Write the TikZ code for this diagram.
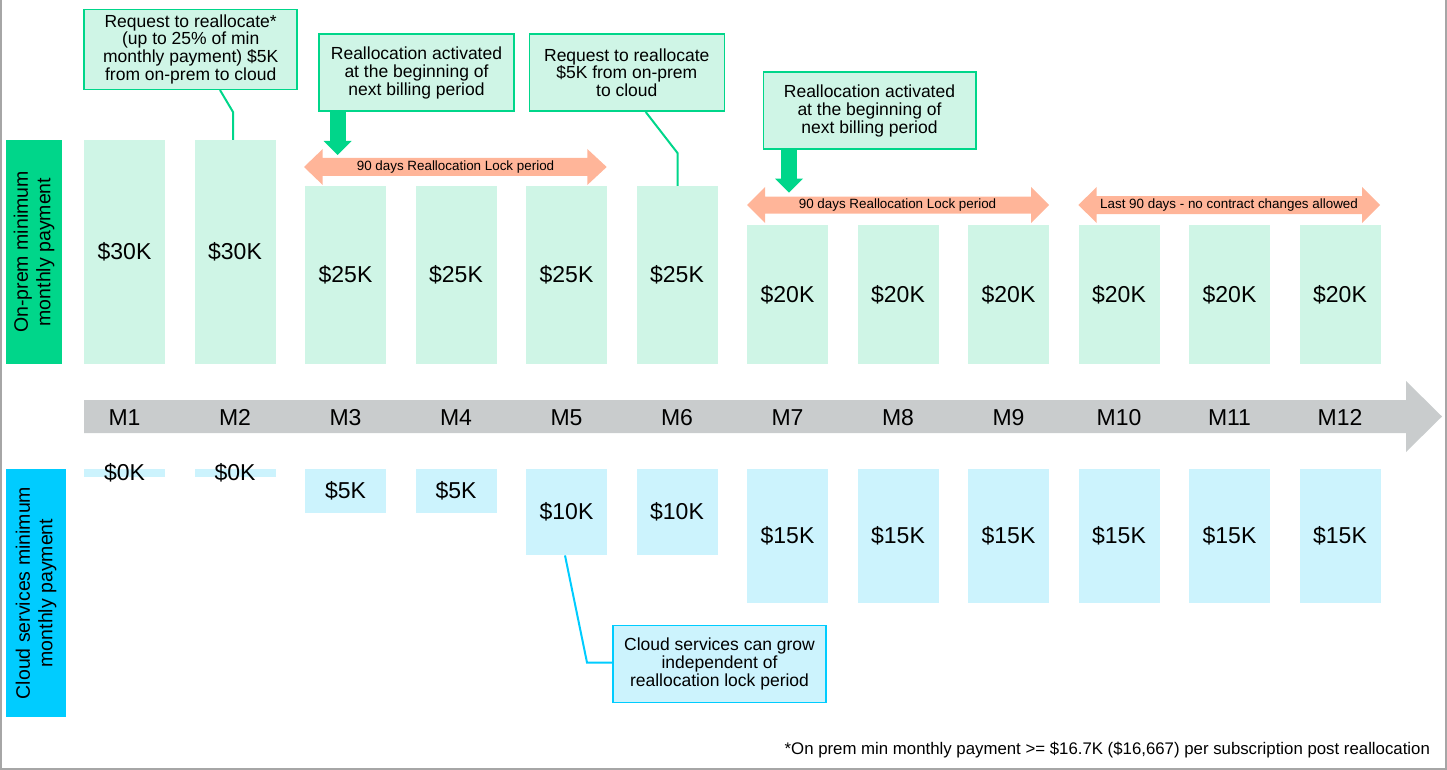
\documentclass[tikz,border=0pt]{standalone}
\usepackage{fontspec}
\setmainfont{Liberation Sans}
\usetikzlibrary{positioning,arrows.meta,shapes}
\definecolor{onprem}{HTML}{00D68A}
\definecolor{onpremlight}{HTML}{CFF5E6}
\definecolor{cloud}{HTML}{00CCFF}
\definecolor{cloudlight}{HTML}{CCF3FD}
\definecolor{lock}{HTML}{FFB599}
\definecolor{axis}{HTML}{C9CCCD}
\definecolor{framegray}{HTML}{A6A6A6}
\tikzstyle{month}=[font=\fontsize{23}{23}\selectfont, text height=16.5pt, text depth=0pt]
\tikzstyle{pbar}=[fill=onpremlight, minimum width=81pt, inner sep=0pt, anchor=north, font=\fontsize{23}{23}\selectfont]
\tikzstyle{cbar}=[fill=cloudlight, minimum width=81pt, inner sep=0pt, anchor=north, font=\fontsize{23}{23}\selectfont]
\tikzstyle{note}=[draw=onprem, line width=1.5pt, fill=onpremlight, align=center, inner sep=0pt, font=\fontsize{17.5}{17.8}\selectfont]
\tikzstyle{cnote}=[note, draw=cloud, fill=cloudlight]
\tikzstyle{side}=[rotate=90, align=center, inner sep=0pt, font=\fontsize{19.5}{22.5}\selectfont]
\tikzstyle{locktext}=[font=\fontsize{13.4}{14}\selectfont]
\tikzstyle{leader}=[draw=onprem, line width=2pt]
\tikzstyle{cleader}=[draw=cloud, line width=2pt]
\tikzstyle{push}=[draw=onprem, line width=16pt, -{Triangle[width=28pt,length=14pt,line width=0pt]}]
\tikzstyle{frameline}=[draw=framegray, line width=2pt]

\begin{document}
\begin{tikzpicture}[x=1pt, y=-1pt, node distance=110.5pt]
	\useasboundingbox (0,0) rectangle (1447,770);
	\draw[frameline] (1,0) -- (1,768.5) -- (1446,768.5) -- (1446,0);
	% time line
	\fill[axis] (84,400) -- (1406,400) -- (1406,381) -- (1442,416.5) -- (1406,452) -- (1406,433) -- (84,433) -- cycle;
	\node[month] (m1) at (124.5,417) {M1};
	\node[month, right of=m1] (m2) {M2};
	\node[month, right of=m2] (m3) {M3};
	\node[month, right of=m3] (m4) {M4};
	\node[month, right of=m4] (m5) {M5};
	\node[month, right of=m5] (m6) {M6};
	\node[month, right of=m6] (m7) {M7};
	\node[month, right of=m7] (m8) {M8};
	\node[month, right of=m8] (m9) {M9};
	\node[month, right of=m9] (m10) {M10};
	\node[month, right of=m10] (m11) {M11};
	\node[month, right of=m11] (m12) {M12};
	% side labels
	\node[side, fill=onprem, minimum width=224pt, minimum height=56pt] (plabel) at (34,252) {On-prem minimum\\monthly payment};
	\node[side, fill=cloud, minimum width=248pt, minimum height=60pt] (clabel) at (36,593) {Cloud services minimum\\monthly payment};
	% on-prem payments
	\node[pbar, minimum height=224pt] (p1) at (m1 |- 0,140) {\$30K};
	\node[pbar, minimum height=224pt] (p2) at (m2 |- 0,140) {\$30K};
	\node[pbar, minimum height=178pt] (p3) at (m3 |- 0,186) {\$25K};
	\node[pbar, minimum height=178pt] (p4) at (m4 |- 0,186) {\$25K};
	\node[pbar, minimum height=178pt] (p5) at (m5 |- 0,186) {\$25K};
	\node[pbar, minimum height=178pt] (p6) at (m6 |- 0,186) {\$25K};
	\node[pbar, minimum height=139pt] (p7) at (m7 |- 0,225) {\$20K};
	\node[pbar, minimum height=139pt] (p8) at (m8 |- 0,225) {\$20K};
	\node[pbar, minimum height=139pt] (p9) at (m9 |- 0,225) {\$20K};
	\node[pbar, minimum height=139pt] (p10) at (m10 |- 0,225) {\$20K};
	\node[pbar, minimum height=139pt] (p11) at (m11 |- 0,225) {\$20K};
	\node[pbar, minimum height=139pt] (p12) at (m12 |- 0,225) {\$20K};
	% cloud payments
	\node[cbar, minimum height=8pt, label={[font=\fontsize{23}{23}\selectfont]center:\$0K}] (c1) at (m1 |- 0,469) {};
	\node[cbar, minimum height=8pt, label={[font=\fontsize{23}{23}\selectfont]center:\$0K}] (c2) at (m2 |- 0,469) {};
	\node[cbar, minimum height=44pt] (c3) at (m3 |- 0,469) {\$5K};
	\node[cbar, minimum height=44pt] (c4) at (m4 |- 0,469) {\$5K};
	\node[cbar, minimum height=86pt] (c5) at (m5 |- 0,469) {\$10K};
	\node[cbar, minimum height=86pt] (c6) at (m6 |- 0,469) {\$10K};
	\node[cbar, minimum height=134pt] (c7) at (m7 |- 0,469) {\$15K};
	\node[cbar, minimum height=134pt] (c8) at (m8 |- 0,469) {\$15K};
	\node[cbar, minimum height=134pt] (c9) at (m9 |- 0,469) {\$15K};
	\node[cbar, minimum height=134pt] (c10) at (m10 |- 0,469) {\$15K};
	\node[cbar, minimum height=134pt] (c11) at (m11 |- 0,469) {\$15K};
	\node[cbar, minimum height=134pt] (c12) at (m12 |- 0,469) {\$15K};
	% lock periods
	\fill[lock] (304,167) -- (322.7,149) -- (322.7,158) -- (587.3,158) -- (587.3,149) -- (606.7,167) -- (587.3,185) -- (587.3,176) -- (322.7,176) -- (322.7,185) -- cycle;
	\node[locktext] (lock1) at (455.5,167) {90 days Reallocation Lock period};
	\fill[lock] (747,205) -- (765,187) -- (765,196.5) -- (1031,196.5) -- (1031,187) -- (1049,205) -- (1031,223) -- (1031,213.5) -- (765,213.5) -- (765,223) -- cycle;
	\node[locktext] (lock2) at (897.5,205) {90 days Reallocation Lock period};
	\fill[lock] (1078.3,205) -- (1096.7,187) -- (1096.7,196) -- (1362,196) -- (1362,187) -- (1380,205) -- (1362,223) -- (1362,214) -- (1096.7,214) -- (1096.7,223) -- cycle;
	\node[locktext] (lock3) at (1229,205) {Last 90 days - no contract changes allowed};
	% callouts
	\node[note, minimum width=213pt, minimum height=80pt] (req1) at (190.7,49.3) {Request to reallocate*\\(up to 25\% of min\\monthly payment) \$5K\\from on-prem to cloud};
	\node[note, minimum width=195pt, minimum height=77pt] (rea1) at (416.5,72.7) {Reallocation activated\\at the beginning of\\next billing period};
	\node[note, minimum width=195pt, minimum height=77pt] (req2) at (626.8,72.7) {Request to reallocate\\\$5K from on-prem\\to cloud};
	\node[note, minimum width=212.5pt, minimum height=77pt] (rea2) at (869.5,110.7) {Reallocation activated\\at the beginning of\\next billing period};
	\node[cnote, minimum width=213pt, minimum height=77pt] (grow) at (719.5,664) {Cloud services can grow\\independent of\\reallocation lock period};
	\coordinate (k1) at (233,112);
	\coordinate (k3) at (677.5,153);
	\coordinate (k5) at (587,662.5);
	\coordinate (t1) at (337.5,155);
	\coordinate (t2) at (789,192.7);
	\draw[leader] (req1.south -| 220,0) -- (k1) -- (k1 |- p2.north);
	\draw[leader] (req2.south -| 645.7,0) -- (k3) -- (k3 |- p6.north);
	\draw[push] (t1 |- rea1.south) -- (t1);
	\draw[push] (t2 |- rea2.south) -- (t2);
	\draw[cleader] (c5.south -| 565,0) -- (k5) -- (k5 -| grow.west);
	% footnote
	\node[font=\fontsize{16.8}{17}\selectfont, anchor=east] (foot) at (1433.5,750) {*On prem min monthly payment >= \$16.7K (\$16,667) per subscription post reallocation};
\end{tikzpicture}
\end{document}
